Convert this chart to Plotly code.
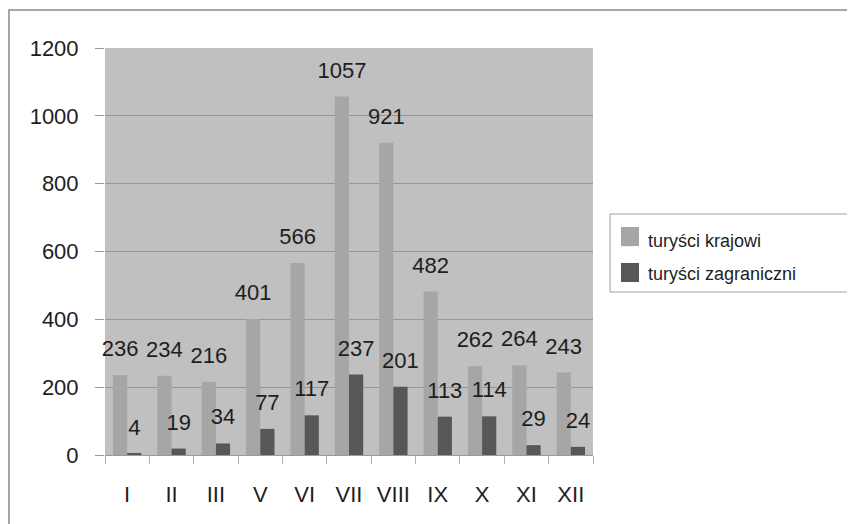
import plotly.graph_objects as go

months = ["I", "II", "III", "V", "VI", "VII", "VIII", "IX", "X", "XI", "XII"]
krajowi = [236, 234, 216, 401, 566, 1057, 921, 482, 262, 264, 243]
zagraniczni = [4, 19, 34, 77, 117, 237, 201, 113, 114, 29, 24]
series_names = ["turyści krajowi", "turyści zagraniczni"]
y_ticks = [0, 200, 400, 600, 800, 1000, 1200]

FONT = "Liberation Sans, Arial, sans-serif"
TXT = "#1e1e1e"
OFF = 8  # page body margin
W, H = 855, 524
# desired screen positions of the plot area
SX0, SX1, SY0, SY1 = 105, 593, 48, 455
L = SX0 - OFF
T = SY0 - OFF
pw, ph = SX1 - SX0, SY1 - SY0
R = W - L - pw
B = H - T - ph

fig = go.Figure()
colors = ["#a6a6a6", "#575757"]
for name, vals, col, og in [(series_names[0], krajowi, colors[0], "a"),
                            (series_names[1], zagraniczni, colors[1], "b")]:
    fig.add_trace(go.Bar(x=months, y=vals, name=name, marker_color=col,
                         marker_line_width=0, offsetgroup=og, legendgroup=og))
for vals, og in [(krajowi, "a"), (zagraniczni, "b")]:
    fig.add_trace(go.Scatter(x=months, y=vals, mode="markers+text", text=[str(v) for v in vals],
                             textposition="top center", offsetgroup=og,
                             marker=dict(size=20, opacity=0), showlegend=False,
                             textfont=dict(family=FONT, size=22, color=TXT),
                             cliponaxis=False, hoverinfo="skip"))

def px(x):
    return (x - SX0) / pw

def py(y):
    return (SY1 - y) / ph

# outer frame (extends beyond the visible page to the right and bottom)
fig.add_shape(type="rect", xref="paper", yref="paper",
              x0=px(9), x1=px(900), y0=py(560), y1=py(10),
              line=dict(color="#8a8a8a", width=1.5), layer="below")
# legend frame
fig.add_shape(type="rect", xref="paper", yref="paper",
              x0=px(610), x1=px(900), y0=py(292), y1=py(214),
              line=dict(color="#a0a0a0", width=1), layer="below")
# larger legend swatches (drawn under the legend's own symbols)
for col, (ya, yb) in zip(colors, [(227, 246), (263, 282)]):
    fig.add_shape(type="rect", xref="paper", yref="paper",
                  x0=px(621), x1=px(639), y0=py(yb), y1=py(ya),
                  fillcolor=col, line_width=0, layer="above")

fig.update_layout(
    width=W, height=H,
    margin=dict(l=L, r=R, t=T, b=B, autoexpand=False),
    paper_bgcolor="white", plot_bgcolor="#c0c0c0",
    barmode="group", bargap=0.36, bargroupgap=0,
    scattermode="group", scattergap=0.36,
    font=dict(family=FONT, size=22, color=TXT),
    legend=dict(x=px(608), y=py(222), xanchor="left", yanchor="top",
                bgcolor="rgba(0,0,0,0)", borderwidth=0,
                font=dict(family=FONT, size=18, color=TXT),
                tracegroupgap=6, itemwidth=30),
    xaxis=dict(type="category", showgrid=False, showline=True, linecolor="#9a9a9a",
               ticks="outside", tickson="boundaries", ticklen=8, tickcolor="#b0b0b0",
               tickfont=dict(family=FONT, size=22, color=TXT), ticklabelstandoff=20),
    yaxis=dict(range=[0, 1200], tickvals=y_ticks, showgrid=True, gridcolor="#969696",
               gridwidth=1, zeroline=False, showline=False,
               ticks="outside", ticklen=9, tickcolor="#9a9a9a",
               tickfont=dict(family=FONT, size=22, color=TXT), ticklabelstandoff=12),
    showlegend=True,
)

fig.write_html("out.html")
